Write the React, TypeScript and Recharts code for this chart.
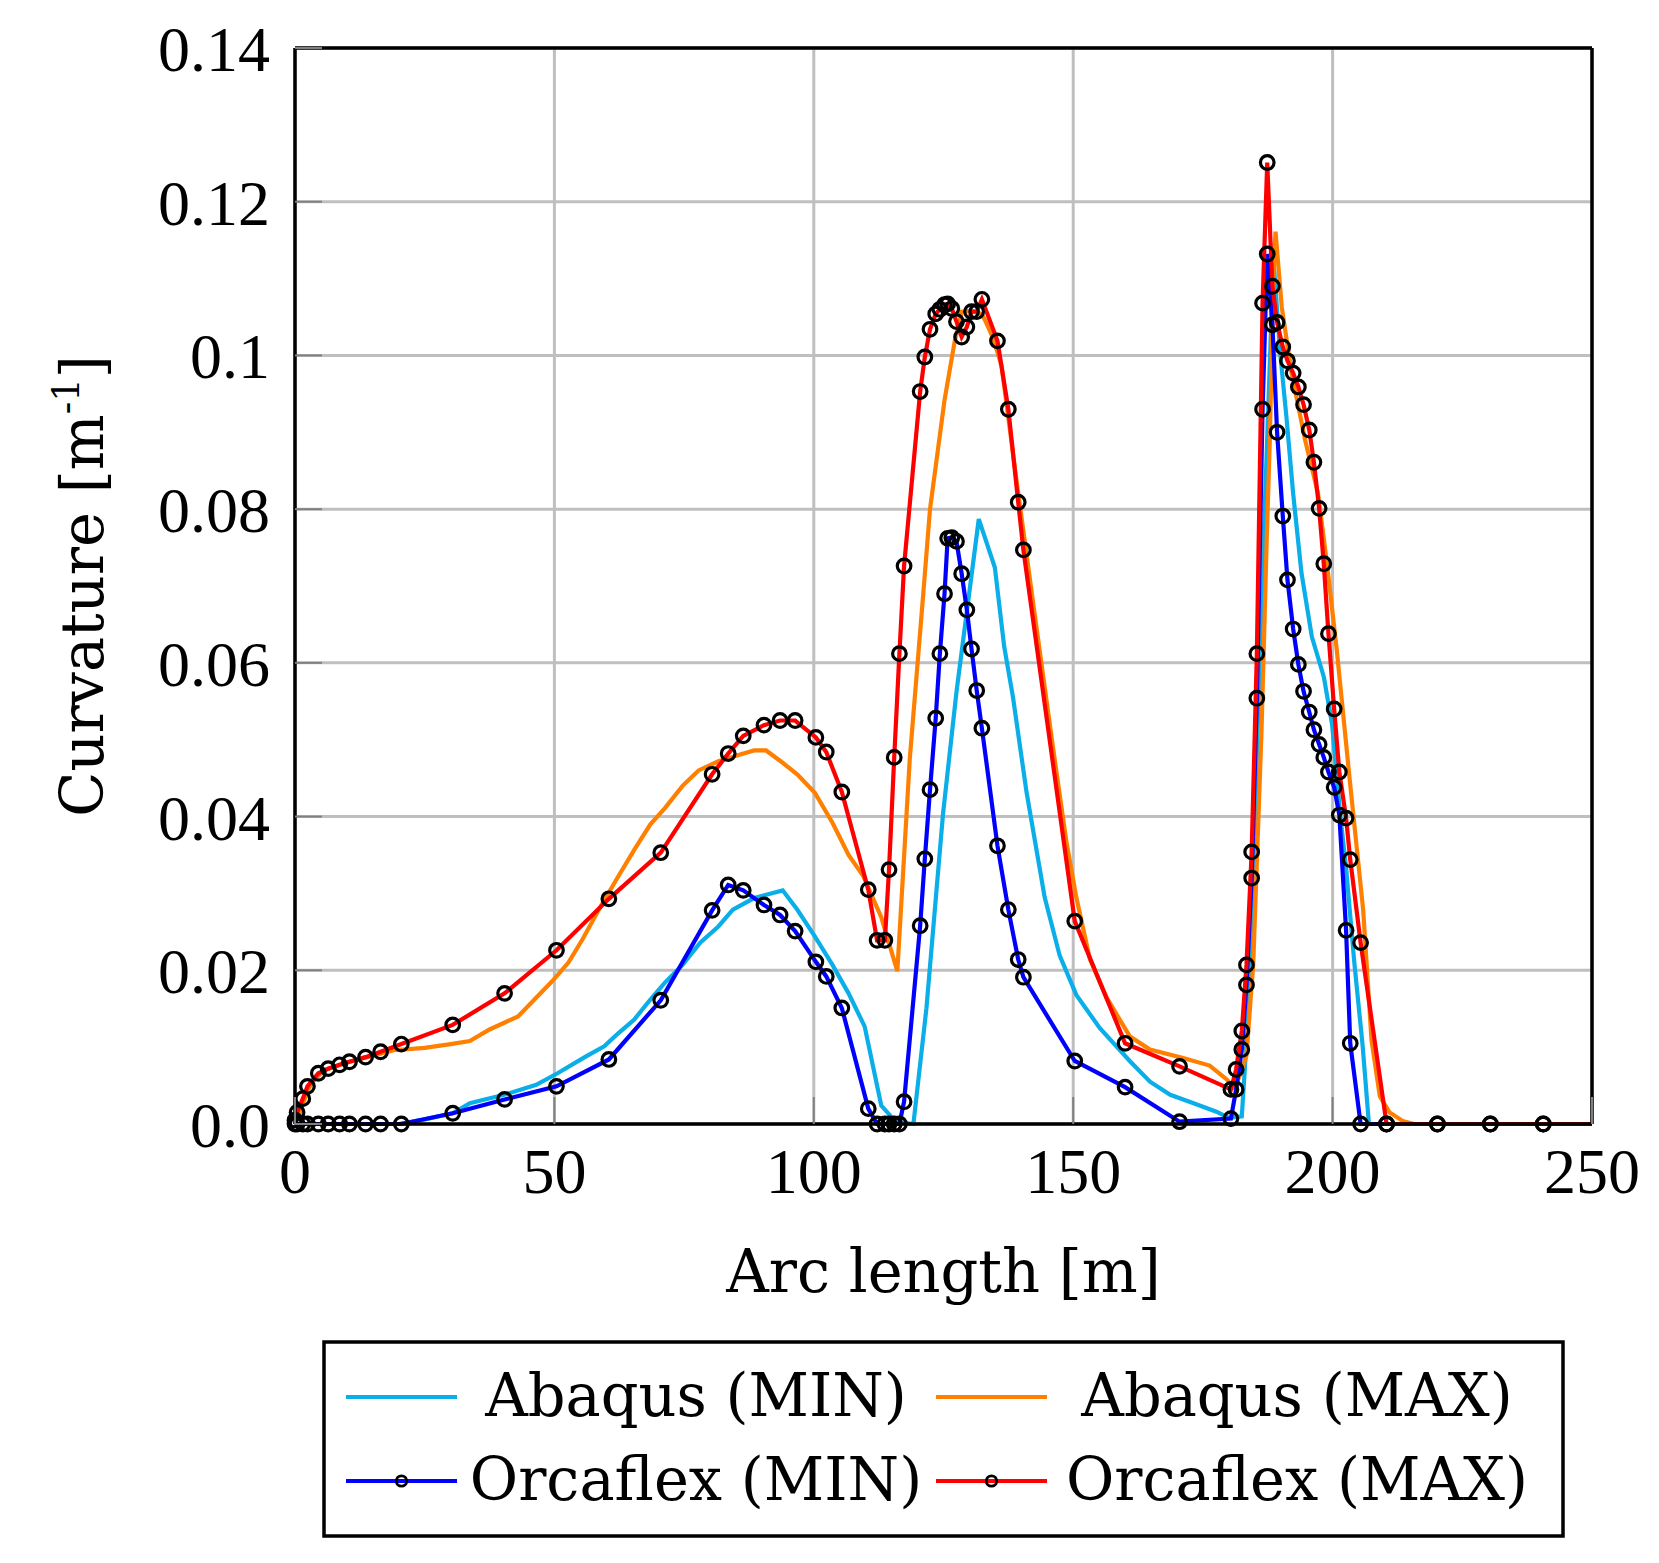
import React from "react";
import { LineChart, Line, XAxis, YAxis, CartesianGrid } from "recharts";

// ── axis ticks ──
const xTicks = [0, 50, 100, 150, 200, 250];
const yTicks = [0, 0.02, 0.04, 0.06, 0.08, 0.1, 0.12, 0.14];
const yTickLabels = ["0.0", "0.02", "0.04", "0.06", "0.08", "0.1", "0.12", "0.14"];

// ── Abaqus (MIN) ──
const abaqusMinX = [
  0, 10, 20, 25, 30.4, 33.7, 40.3, 46.5, 50.6, 56.1, 59.6, 62.3, 65.4, 68.5, 71.3, 74.7,
  78.1, 81.6, 84.4, 88.5, 94, 96.8, 100.2, 103.6, 106.7, 109.8, 113, 115, 117, 119.2,
  121.7, 124.9, 127.5, 131.8, 134.9, 136.7, 138.4, 141, 144.5, 147.4, 150.6, 155.1,
  160.9, 164.8, 168.7, 173.2, 177.6, 180, 182.5, 184.1, 186.1, 188.6, 189.9, 191.1,
  192.4, 194, 196, 198.3, 199.9, 201.5, 202.6, 204.2, 205.8, 207, 250,
];
const abaqusMinY = [
  0, 0, 0, 0.0006, 0.0014, 0.0027, 0.0038, 0.0051, 0.0066, 0.0088, 0.0101, 0.0118,
  0.0136, 0.0162, 0.0184, 0.0207, 0.0236, 0.0257, 0.0279, 0.0294, 0.0304, 0.0279,
  0.0244, 0.0207, 0.017, 0.0127, 0.0024, 0.0009, 0.0002, 0, 0.015, 0.0403, 0.0562,
  0.0787, 0.0724, 0.0621, 0.0555, 0.0432, 0.0295, 0.0219, 0.0168, 0.0125, 0.0082,
  0.0055, 0.0038, 0.0027, 0.0016, 0.0008, 0.001, 0.0181, 0.064, 0.1125, 0.1003, 0.092,
  0.082, 0.0717, 0.0634, 0.0582, 0.052, 0.04, 0.0333, 0.0209, 0.0101, 0, 0,
];

// ── Abaqus (MAX) ──
const abaqusMaxX = [
  0, 1, 2.5, 4, 6, 10, 15, 19, 25, 30, 33.7, 37.5, 43, 49.6, 52.7, 55.4, 58.9, 62.3,
  65.5, 68.5, 71.3, 74.7, 77.8, 81.6, 85, 88.5, 90.8, 94, 96.8, 100.2, 103.6, 106.7,
  109.5, 113, 116.1, 118.5, 121.1, 122.4, 125.2, 127.2, 128.5, 130.5, 132.3, 133, 134.6,
  136.2, 139.1, 142.3, 146.1, 148.7, 150.6, 153.2, 156.4, 160.9, 164.8, 171.2, 176.3,
  179.6, 181.2, 183.4, 184.7, 186.3, 187.3, 187.9, 188.6, 189, 190.2, 192.1, 194.7,
  197.2, 198.9, 200.8, 203.3, 205.9, 207.5, 209.1, 211, 213.5, 215.7, 250,
];
const abaqusMaxY = [
  0, 0.0015, 0.0045, 0.006, 0.0071, 0.008, 0.0089, 0.0096, 0.0099, 0.0104, 0.0108,
  0.0123, 0.014, 0.0186, 0.021, 0.024, 0.0283, 0.0322, 0.0358, 0.039, 0.0411, 0.044,
  0.046, 0.0472, 0.0479, 0.0486, 0.0486, 0.047, 0.0455, 0.0431, 0.0392, 0.035, 0.0323,
  0.0269, 0.0199, 0.0475, 0.069, 0.08, 0.0942, 0.102, 0.1057, 0.1058, 0.1054, 0.1046,
  0.1022, 0.0986, 0.0836, 0.0677, 0.049, 0.0367, 0.0295, 0.0215, 0.0165, 0.0114,
  0.0097, 0.0086, 0.0076, 0.0058, 0.0046, 0.0089, 0.0208, 0.0512, 0.076, 0.089, 0.1107,
  0.1161, 0.1063, 0.0977, 0.089, 0.082, 0.073, 0.0617, 0.0448, 0.0278, 0.0109, 0.0036,
  0.0015, 0.0004, 0, 0,
];

// ── Orcaflex (MIN / MAX), same arc length stations ──
const orcaflexX = [
  0, 0.4, 1.5, 2.4, 4.5, 6.4, 8.6, 10.5, 13.6, 16.5, 20.5, 30.4, 40.4, 50.4, 60.5, 70.5,
  80.4, 83.5, 86.4, 90.4, 93.5, 96.4, 100.4, 102.4, 105.4, 110.5, 112.2, 113.7, 114.5,
  115.5, 116.5, 117.4, 120.5, 121.4, 122.4, 123.5, 124.3, 125.2, 125.8, 126.6, 127.5,
  128.5, 129.5, 130.4, 131.4, 132.4, 135.4, 137.5, 139.4, 140.4, 150.3, 160, 170.5,
  180.4, 181.4, 182.5, 183.4, 184.4, 185.4, 186.5, 187.4, 188.4, 189.3, 190.4, 191.3,
  192.4, 193.4, 194.4, 195.5, 196.4, 197.4, 198.3, 199.2, 200.3, 201.3, 202.6, 203.4,
  205.4, 210.4, 220.2, 230.4, 240.6, 250,
];
const orcaflexMinY = [
  0, 0, 0, 0, 0, 0, 0, 0, 0, 0, 0, 0.0014, 0.0032, 0.0049, 0.0084, 0.0161, 0.0278,
  0.0311, 0.0304, 0.0285, 0.0272, 0.0251, 0.0211, 0.0192, 0.0151, 0.002, 0, 0, 0, 0, 0,
  0.0029, 0.0258, 0.0345, 0.0435, 0.0528, 0.0612, 0.069, 0.0762, 0.0763, 0.0758, 0.0716,
  0.0669, 0.0618, 0.0564, 0.0515, 0.0362, 0.0279, 0.0214, 0.0191, 0.0082, 0.0048,
  0.0003, 0.0007, 0.0045, 0.0097, 0.0181, 0.032, 0.0554, 0.093, 0.1132, 0.104, 0.09,
  0.0791, 0.0708, 0.0644, 0.0598, 0.0563, 0.0536, 0.0513, 0.0494, 0.0477, 0.0458,
  0.0438, 0.0402, 0.0252, 0.0105, 0, 0, 0, 0, 0, 0,
];
const orcaflexMaxY = [
  0.0005, 0.0015, 0.0033, 0.0049, 0.0066, 0.0072, 0.0077, 0.0081, 0.0087, 0.0094,
  0.0104, 0.0129, 0.017, 0.0226, 0.0293, 0.0353, 0.0455, 0.0482, 0.0505, 0.0519,
  0.0525, 0.0525, 0.0503, 0.0484, 0.0432, 0.0305, 0.0239, 0.0239, 0.0331, 0.0477,
  0.0612, 0.0726, 0.0953, 0.0998, 0.1034, 0.1054, 0.106, 0.1066, 0.1067, 0.1061,
  0.1044, 0.1024, 0.1037, 0.1057, 0.1057, 0.1073, 0.1019, 0.093, 0.0809, 0.0747,
  0.0264, 0.0105, 0.0075, 0.0045, 0.0071, 0.0121, 0.0207, 0.0354, 0.0612, 0.1068,
  0.1251, 0.109, 0.1043, 0.1011, 0.0993, 0.0977, 0.0959, 0.0936, 0.0903, 0.0861,
  0.0801, 0.0729, 0.0638, 0.054, 0.0458, 0.0398, 0.0344, 0.0236, 0, 0, 0, 0, 0,
];

const seriesNames = ["Abaqus (MIN)", "Abaqus (MAX)", "Orcaflex (MIN)", "Orcaflex (MAX)"];
const seriesColors = ["#0aaee8", "#ff8000", "#0000ff", "#ff0000"];

const W = 1659;
const H = 1563;
const TEXT_FONT = "'DejaVu Serif', serif";
const TICK_FONT = "'Liberation Serif', serif";
const LINE_W = 4.2;

const toRows = (xs: number[], ys: number[]) => xs.map((x, i) => ({ x, y: ys[i] }));

const abaqusMin = toRows(abaqusMinX, abaqusMinY);
const abaqusMax = toRows(abaqusMaxX, abaqusMaxY);
const orcaflexMin = toRows(orcaflexX, orcaflexMinY);
const orcaflexMax = toRows(orcaflexX, orcaflexMaxY);

const TICK_LEN = 27;
const tickStroke = "#808080";

// hollow black circle; the closing station at 250 m has no marker
const renderDot = (props: any) => {
  const { cx, cy, index } = props;
  if (index === orcaflexX.length - 1) return <g key={`d-${index}`} />;
  return (
    <circle
      key={`d-${index}`}
      cx={cx}
      cy={cy}
      r={6.8}
      fill="none"
      stroke="#000"
      strokeWidth={3.2}
    />
  );
};

const BottomTick = (props: any) => {
  const { x, y, payload } = props;
  return (
    <g>
      <line x1={x} x2={x} y1={y} y2={y - TICK_LEN} stroke={tickStroke} strokeWidth={2} />
      <text x={x} y={y + 69} textAnchor="middle" fontFamily={TICK_FONT} fontSize={64} fill="#000">
        {payload.value}
      </text>
    </g>
  );
};

const LeftTick = (props: any) => {
  const { x, y, payload } = props;
  const i = yTicks.indexOf(payload.value);
  return (
    <g>
      <line x1={x} x2={x + TICK_LEN} y1={y} y2={y} stroke={tickStroke} strokeWidth={2} />
      <text x={x - 25} y={y + 23} textAnchor="end" fontFamily={TICK_FONT} fontSize={64} fill="#000">
        {i >= 0 ? yTickLabels[i] : payload.value}
      </text>
    </g>
  );
};

const TopTick = (props: any) => {
  const { x, y } = props;
  return <line x1={x} x2={x} y1={y} y2={y + TICK_LEN} stroke={tickStroke} strokeWidth={2} />;
};

const RightTick = (props: any) => {
  const { x, y } = props;
  return <line x1={x} x2={x - TICK_LEN} y1={y} y2={y} stroke={tickStroke} strokeWidth={2} />;
};

function ChartLegend() {
  const rows = [
    { y: 1397, items: [0, 1] },
    { y: 1481, items: [2, 3] },
  ];
  const cols = [
    { x1: 346, x2: 457, tx: 696 },
    { x1: 936, x2: 1047, tx: 1297 },
  ];
  return (
    <svg
      width={W}
      height={H}
      style={{ position: "absolute", left: 0, top: 0, pointerEvents: "none" }}
    >
      <rect x={324} y={1342} width={1239} height={194} fill="#fff" stroke="#000" strokeWidth={3.5} />
      {rows.map((row) =>
        row.items.map((s, c) => {
          const col = cols[c];
          return (
            <g key={s}>
              <line x1={col.x1} x2={col.x2} y1={row.y} y2={row.y} stroke={seriesColors[s]} strokeWidth={LINE_W} />
              {s >= 2 && (
                <circle cx={(col.x1 + col.x2) / 2} cy={row.y} r={5.2} fill="none" stroke="#000" strokeWidth={2.8} />
              )}
              <text
                x={col.tx}
                y={row.y + 19}
                textAnchor="middle"
                fontFamily={TEXT_FONT}
                fontSize={59}
                fill="#000"
              >
                {seriesNames[s]}
              </text>
            </g>
          );
        })
      )}
    </svg>
  );
}

export default function App() {
  const axisLine = { stroke: "#000", strokeWidth: 3.5 };
  return (
    <div style={{ position: "absolute", left: 0, top: 0, width: W, height: H, background: "#fff" }}>
      <LineChart width={W} height={H} margin={{ top: 47, right: 66, bottom: 0, left: 0 }}>
        <CartesianGrid xAxisId="b" yAxisId="l" stroke="#bfbfbf" strokeWidth={3} />
        <XAxis
          xAxisId="b"
          dataKey="x"
          type="number"
          domain={[0, 250]}
          ticks={xTicks}
          height={439}
          tickSize={0}
          tickMargin={0}
          axisLine={axisLine}
          tick={<BottomTick />}
          label={{
            content: (p: any) => {
              const vb = p.viewBox || { x: 295, y: 1124, width: 1297 };
              return (
                <text
                  x={vb.x + vb.width / 2}
                  y={vb.y + 168}
                  textAnchor="middle"
                  fontFamily={TEXT_FONT}
                  fontSize={59}
                  fill="#000"
                >
                  Arc length [m]
                </text>
              );
            },
          }}
        />
        <XAxis
          xAxisId="t"
          orientation="top"
          type="number"
          domain={[0, 250]}
          ticks={xTicks}
          height={1}
          tickSize={0}
          tickMargin={0}
          axisLine={axisLine}
          tick={<TopTick />}
        />
        <YAxis
          yAxisId="l"
          type="number"
          domain={[0, 0.14]}
          ticks={yTicks}
          width={295}
          tickSize={0}
          tickMargin={0}
          axisLine={axisLine}
          tick={<LeftTick />}
          label={{
            content: (p: any) => {
              const vb = p.viewBox || { y: 48, height: 1076 };
              const cy = vb.y + vb.height / 2;
              return (
                <text
                  x={103}
                  y={cy}
                  transform={`rotate(-90, 103, ${cy})`}
                  textAnchor="middle"
                  fontFamily={TEXT_FONT}
                  fontSize={59}
                  fill="#000"
                >
                  <tspan>Curvature [m</tspan>
                  <tspan fontSize={37} dy={-24}>-1</tspan>
                  <tspan dy={24}>]</tspan>
                </text>
              );
            },
          }}
        />
        <YAxis
          yAxisId="r"
          orientation="right"
          type="number"
          domain={[0, 0.14]}
          ticks={yTicks}
          width={1}
          tickSize={0}
          tickMargin={0}
          axisLine={axisLine}
          tick={<RightTick />}
        />
        <Line
          xAxisId="b"
          yAxisId="l"
          data={abaqusMin}
          dataKey="y"
          name={seriesNames[0]}
          type="linear"
          stroke={seriesColors[0]}
          strokeWidth={LINE_W}
          dot={false}
          isAnimationActive={false}
        />
        <Line
          xAxisId="b"
          yAxisId="l"
          data={abaqusMax}
          dataKey="y"
          name={seriesNames[1]}
          type="linear"
          stroke={seriesColors[1]}
          strokeWidth={LINE_W}
          dot={false}
          isAnimationActive={false}
        />
        <Line
          xAxisId="b"
          yAxisId="l"
          data={orcaflexMin}
          dataKey="y"
          name={seriesNames[2]}
          type="linear"
          stroke={seriesColors[2]}
          strokeWidth={LINE_W}
          dot={renderDot}
          isAnimationActive={false}
        />
        <Line
          xAxisId="b"
          yAxisId="l"
          data={orcaflexMax}
          dataKey="y"
          name={seriesNames[3]}
          type="linear"
          stroke={seriesColors[3]}
          strokeWidth={LINE_W}
          dot={renderDot}
          isAnimationActive={false}
        />
      </LineChart>
      <ChartLegend />
    </div>
  );
}
